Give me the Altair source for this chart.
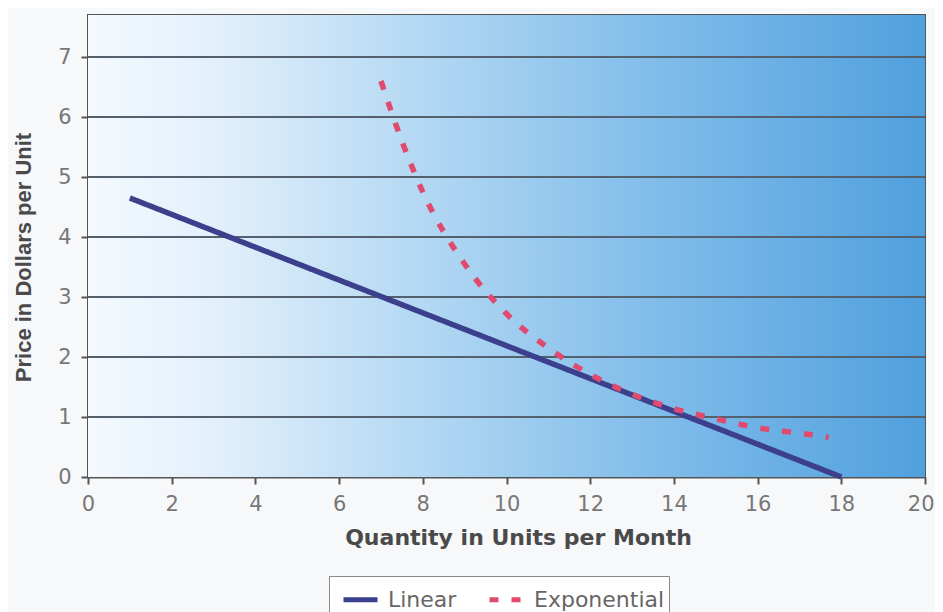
import altair as alt
import pandas as pd

# ---- data ----
series_names = ["Linear", "Exponential"]
lin_x = [1, 18]
lin_y = [4.65, 0.0]
exp_x = [7, 7.5, 8, 9, 10, 11, 12, 13, 14, 15, 16, 17, 17.7]
exp_y = [6.6, 5.6, 4.75, 3.55, 2.72, 2.15, 1.71, 1.38, 1.14, 0.97, 0.82, 0.73, 0.66]
x_ticks = list(range(0, 21, 2))
y_ticks = list(range(0, 8))
x_domain = [0, 20]
y_domain = [0, 7.7]

df = pd.concat([
    pd.DataFrame({"x": lin_x, "y": lin_y, "series": series_names[0]}),
    pd.DataFrame({"x": exp_x, "y": exp_y, "series": series_names[1]}),
], ignore_index=True)
bg_df = pd.DataFrame({"x": [x_domain[0]], "x2": [x_domain[1]],
                      "y": [y_domain[0]], "y2": [y_domain[1]]})
grid_df = pd.DataFrame({"y": y_ticks[1:]})

navy = "#3b3f8c"
pink = "#e04a6e"

xscale = alt.Scale(domain=x_domain, nice=False, zero=False)
yscale = alt.Scale(domain=y_domain, nice=False)

xaxis = alt.Axis(values=x_ticks, grid=False, domainColor="#555", domainWidth=2,
                 tickColor="#555", tickWidth=2, tickSize=7,
                 labelFont="DejaVu Sans", labelFontSize=21, labelColor="#777",
                 labelPadding=9, labelFlush=False,
                 labelAlign={"condition": {"test": "datum.value == 20", "value": "right"},
                             "value": "center"},
                 labelOffset={"condition": {"test": "datum.value == 20", "value": 9},
                              "value": 0},
                 title="Quantity in Units per Month", titleFont="DejaVu Sans",
                 titleFontWeight="bold", titleFontSize=22, titleColor="#4a4a4a",
                 titleX=430, titleY=67, titleAlign="center",
                 titleBaseline="alphabetic")
yaxis = alt.Axis(values=y_ticks, grid=False,
                 domainColor="#555", domainWidth=2,
                 tickColor="#555", tickWidth=2, tickSize=7,
                 labelFont="DejaVu Sans", labelFontSize=21, labelColor="#777",
                 labelPadding=10,
                 title="Price in Dollars per Unit", titleFont="Liberation Sans",
                 titleFontWeight="bold", titleFontSize=22, titleColor="#4a4a4a",
                 titleX=-65, titleY=242, titleAngle=270, titleAlign="center",
                 titleBaseline="middle")

legend = alt.Legend(
    orient="none", legendX=241, legendY=561, direction="horizontal", title=None,
    symbolType="stroke", symbolSize=1156, symbolStrokeWidth=5, symbolOffset=8,
    labelFont="DejaVu Sans", labelFontSize=22, labelColor="#666",
    strokeColor="#888", fillColor="#ffffff", padding=4,
    columnPadding=22, labelOffset=8,
)

gradient = alt.LinearGradient(
    gradient="linear",
    stops=[
        alt.GradientStop(color="#f4f9fe", offset=0),
        alt.GradientStop(color="#e3f0fb", offset=0.15),
        alt.GradientStop(color="#b3d8f3", offset=0.4),
        alt.GradientStop(color="#85bfeb", offset=0.65),
        alt.GradientStop(color="#50a0de", offset=1),
    ],
    x1=0, x2=1, y1=0, y2=0,
)

bg = alt.Chart(bg_df).mark_rect(fill=gradient, strokeWidth=0).encode(
    x=alt.X("x:Q", scale=xscale, axis=xaxis),
    x2="x2:Q",
    y=alt.Y("y:Q", scale=yscale, axis=yaxis),
    y2="y2:Q",
)

grid = alt.Chart(grid_df).mark_rule(color="#55606e", strokeWidth=1.8).encode(
    y=alt.Y("y:Q", scale=yscale, axis=yaxis),
)

lines = alt.Chart(df).mark_line(strokeWidth=5.5, interpolate="monotone").encode(
    x=alt.X("x:Q", scale=xscale, axis=xaxis),
    y=alt.Y("y:Q", scale=yscale, axis=yaxis),
    color=alt.Color("series:N", scale=alt.Scale(domain=series_names, range=[navy, pink]),
                    legend=legend, sort=series_names),
    strokeDash=alt.StrokeDash("series:N",
                              scale=alt.Scale(domain=series_names, range=[[1, 0], [9, 13]]),
                              legend=legend, sort=series_names),
)

chart = alt.layer(bg, grid, lines).properties(
    width=837, height=462,
    autosize=alt.AutoSizeParams(type="none"),
    padding={"left": 80, "top": 7, "right": 10, "bottom": 135},
    background="#f7f8fa",
).configure_view(stroke="#555", strokeWidth=2)

chart.save("out.html", embed_options={"renderer": "svg", "actions": False})
